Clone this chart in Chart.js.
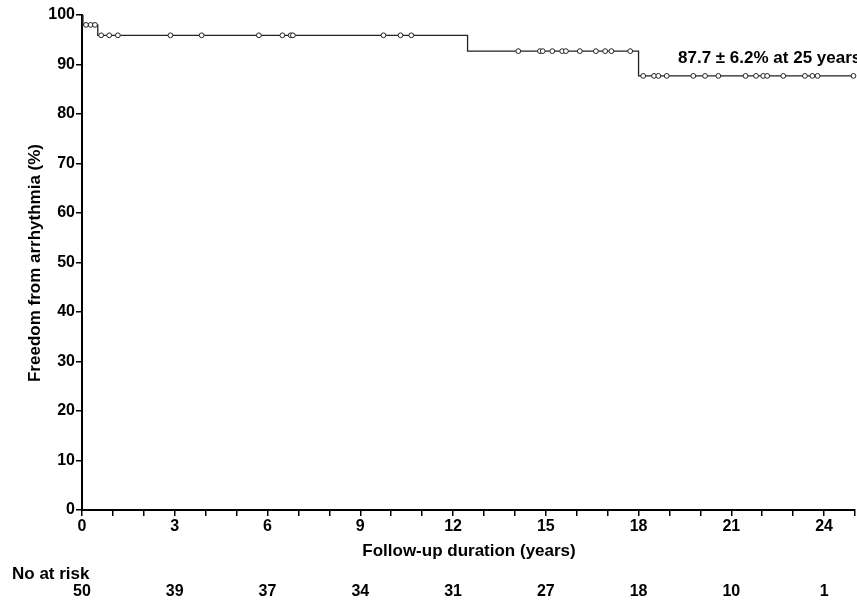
<!DOCTYPE html>
<html>
<head>
<meta charset="utf-8">
<script src="https://cdn.jsdelivr.net/npm/chart.js@4/dist/chart.umd.min.js"></script>
<style>
  html, body { margin: 0; padding: 0; background: #fff; }
  #wrap { width: 857px; height: 605px; }
</style>
</head>
<body>
<div id="wrap"><canvas id="km" width="857" height="605"></canvas></div>
<script>
// --- DATA ---
const stepTimes = [0, 0.03, 0.51, 12.47, 18.0, 25];
const stepValues = [100, 98, 95.9, 92.7, 87.7, 87.7];

// censored observations, one list per survival level
const censorLevels = [98, 95.9, 92.7, 87.7];
const censorTimes = [
    [0.13, 0.28, 0.42],
    [0.62, 0.88, 1.16, 2.86, 3.87, 5.72, 6.48, 6.75, 6.82, 9.75, 10.3, 10.65],
    [14.11, 14.81, 14.9, 15.21, 15.53, 15.65, 16.1, 16.62, 16.92, 17.12, 17.73],
    [18.15, 18.5, 18.64, 18.91, 19.77, 20.15, 20.58, 21.46, 21.8, 22.03, 22.16, 22.68, 23.38, 23.62, 23.79, 24.95]
];

const riskTimes = [0, 3, 6, 9, 12, 15, 18, 21, 24];
const riskCounts = [50, 39, 37, 34, 31, 27, 18, 10, 1];

const annotationText = '87.7 \u00b1 6.2% at 25 years';
const FONT = '"Liberation Sans", Arial, sans-serif';

const stepData = stepTimes.map((t, i) => ({ x: t, y: stepValues[i] }));
const censorData = [];
censorTimes.forEach((list, i) => list.forEach(t => censorData.push({ x: t, y: censorLevels[i] })));

// --- extra text: titles, at-risk row, annotation ---
const extraText = {
    id: 'extraText',
    afterDraw(chart) {
        const ctx = chart.ctx;
        const xs = chart.scales.x;
        ctx.save();
        ctx.fillStyle = '#000';
        ctx.textBaseline = 'middle';

        ctx.font = 'bold 17px ' + FONT;
        ctx.textAlign = 'center';
        ctx.fillText('Follow-up duration (years)', 469, 551);

        ctx.save();
        ctx.translate(35, 263);
        ctx.rotate(-Math.PI / 2);
        ctx.fillText('Freedom from arrhythmia (%)', 0, 0);
        ctx.restore();

        ctx.textAlign = 'left';
        ctx.fillText('No at risk', 12, 574);

        ctx.font = 'bold 16px ' + FONT;
        ctx.textAlign = 'center';
        riskTimes.forEach((t, i) => {
            ctx.fillText(String(riskCounts[i]), xs.getPixelForValue(t), 592);
        });

        ctx.font = 'bold 17px ' + FONT;
        ctx.textAlign = 'left';
        ctx.fillText(annotationText, 678, 58);
        ctx.restore();
    }
};

new Chart(document.getElementById('km'), {
    type: 'line',
    data: {
        datasets: [
            {
                data: stepData,
                stepped: true,
                borderColor: '#222',
                borderWidth: 1.3,
                pointRadius: 0,
                fill: false,
                order: 2
            },
            {
                data: censorData,
                showLine: false,
                pointRadius: 2.4,
                pointBorderWidth: 1,
                pointBorderColor: '#222',
                pointBackgroundColor: '#fff',
                clip: false,
                order: 1
            }
        ]
    },
    options: {
        responsive: false,
        animation: false,
        layout: { autoPadding: false, padding: { top: 15, right: 2, left: 0, bottom: 0 } },
        plugins: { legend: { display: false }, tooltip: { enabled: false } },
        scales: {
            x: {
                type: 'linear',
                min: 0,
                max: 25,
                afterFit: s => { s.height = 95; s.paddingLeft = 0; s.paddingRight = 0; },
                border: { display: true, color: '#000', width: 2 },
                grid: { display: true, drawOnChartArea: false, drawTicks: true, tickLength: 6, color: '#000', lineWidth: 1.5 },
                ticks: {
                    stepSize: 1,
                    autoSkip: false,
                    maxRotation: 0,
                    padding: 1,
                    color: '#000',
                    font: { family: FONT, size: 16, weight: 'bold' },
                    callback: v => (v % 3 === 0 ? String(v) : '')
                }
            },
            y: {
                min: 0,
                max: 100,
                afterFit: s => { s.width = 82; s.paddingTop = 0; s.paddingBottom = 0; },
                border: { display: true, color: '#000', width: 2 },
                grid: { display: true, drawOnChartArea: false, drawTicks: true, tickLength: 6, color: '#000', lineWidth: 1.5 },
                ticks: {
                    stepSize: 10,
                    padding: 1,
                    color: '#000',
                    font: { family: FONT, size: 16, weight: 'bold' }
                }
            }
        }
    },
    plugins: [extraText]
});
</script>
</body>
</html>
